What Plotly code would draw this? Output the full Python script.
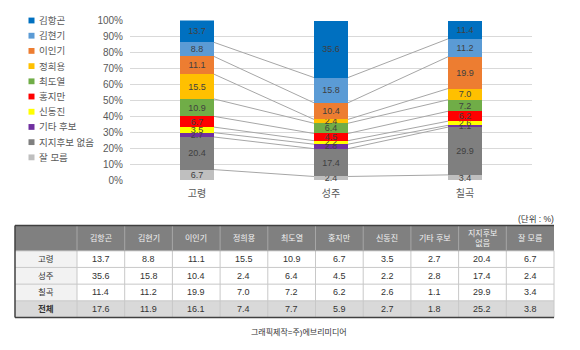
import plotly.graph_objects as go

# ---------------- data ----------------
regions = ["고령", "성주", "칠곡"]
candidates = ["김항곤", "김현기", "이인기", "정희용", "최도열", "홍지만", "신동진", "기타 후보", "지지후보 없음", "잘 모름"]
goryeong = [13.7, 8.8, 11.1, 15.5, 10.9, 6.7, 3.5, 2.7, 20.4, 6.7]
seongju = [35.6, 15.8, 10.4, 2.4, 6.4, 4.5, 2.2, 2.8, 17.4, 2.4]
chilgok = [11.4, 11.2, 19.9, 7.0, 7.2, 6.2, 2.6, 1.1, 29.9, 3.4]
total = [17.6, 11.9, 16.1, 7.4, 7.7, 5.9, 2.7, 1.8, 25.2, 3.8]
ytick_labels = ["0%", "10%", "20%", "30%", "40%", "50%", "60%", "70%", "80%", "90%", "100%"]
colors = ["#0070C0", "#5B9BD5", "#ED7D31", "#FFC000", "#70AD47", "#FF0000", "#FFFF00", "#7030A0", "#7F7F7F", "#BFBFBF"]
header_labels = ["", "김항곤", "김현기", "이인기", "정희용", "최도열", "홍지만", "신동진", "기타 후보", "지지후보<br>없음", "잘 모름"]
row_labels = ["고령", "성주", "칠곡", "전체"]
unit_text = "(단위 : %)"
credit_text = "그래픽제작=주)에브리미디어"

W, H = 580, 350
FONT = "Liberation Sans, Noto Sans CJK KR, sans-serif"


def px(x):
    return x / W


def py(y):
    return 1 - y / H


series_by_region = [goryeong, seongju, chilgok]
xpos = [0, 1, 2]
bw = 0.254

fig = go.Figure()

# stacked bars: bottom series first
n = len(candidates)
for i in reversed(range(n)):
    vals = [r[i] for r in series_by_region]
    fig.add_trace(go.Bar(
        x=xpos, y=vals, name=candidates[i], width=bw,
        marker=dict(color=colors[i], line=dict(width=0)),
        text=[f"{v:.1f}" for v in vals], textposition="inside",
        insidetextanchor="middle", textangle=0,
        textfont=dict(size=9, color="#404040", family=FONT),
        showlegend=False, hoverinfo="skip", cliponaxis=False,
    ))

# series lines connecting the tops of each segment
for i in range(1, n):
    tops = [sum(r[i:]) for r in series_by_region]
    xs, ys = [], []
    for k in range(len(xpos) - 1):
        xs += [xpos[k] + bw / 2, xpos[k + 1] - bw / 2, None]
        ys += [tops[k], tops[k + 1], None]
    fig.add_trace(go.Scatter(x=xs, y=ys, mode="lines",
                             line=dict(color="#A6A6A6", width=1),
                             showlegend=False, hoverinfo="skip"))

shapes = []
annotations = []


def rect(x0, y0, x1, y1, fill):
    shapes.append(dict(type="rect", xref="paper", yref="paper",
                       x0=px(x0), x1=px(x1), y0=py(y1), y1=py(y0),
                       fillcolor=fill, line=dict(width=0), layer="below"))


def line(x0, y0, x1, y1, color, width=1):
    shapes.append(dict(type="line", xref="paper", yref="paper",
                       x0=px(x0), y0=py(y0), x1=px(x1), y1=py(y1),
                       line=dict(color=color, width=width)))


def text(t, x, y, size, color, anchor="center"):
    annotations.append(dict(text=t, xref="paper", yref="paper", x=px(x), y=py(y),
                            xanchor=anchor, yanchor="middle", showarrow=False,
                            font=dict(size=size, color=color, family=FONT)))


# ---------------- table ----------------
t_left, t_right = 15, 554
first_w = 62
col_w = (t_right - t_left - first_w) / n
col_edges = [t_left, t_left + first_w] + [t_left + first_w + col_w * (j + 1) for j in range(n)]
t_top, head_bot, t_bot = 227.7, 253.7, 322.7
row_h = (t_bot - head_bot) / len(row_labels)
row_edges = [head_bot + row_h * k for k in range(len(row_labels) + 1)]

rect(t_left, t_top, t_right, head_bot, "#808080")
for k in range(len(row_labels)):
    last = k == len(row_labels) - 1
    rect(t_left, row_edges[k], t_left + first_w, row_edges[k + 1], "#D9D9D9" if last else "#F2F2F2")
    rect(t_left + first_w, row_edges[k], t_right, row_edges[k + 1], "#D9D9D9" if last else "#FFFFFF")

# grid lines
for xe in col_edges[1:-1]:
    line(xe, t_top, xe, head_bot, "#A6A6A6")
    line(xe, head_bot, xe, t_bot, "#C8C8C8")
line(t_right, head_bot, t_right, t_bot, "#C8C8C8")
for ye in row_edges[1:-1]:
    line(t_left, ye, t_right, ye, "#C8C8C8")
line(t_left, head_bot, t_right, head_bot, "#A6A6A6")
# outer borders
line(t_left, t_top, t_right, t_top, "#404040", 1.5)
line(t_left, t_bot, t_right, t_bot, "#404040", 1.5)
line(t_left, t_top, t_left, t_bot, "#404040", 1.5)

# header text
for j in range(1, len(header_labels)):
    xc = (col_edges[j] + col_edges[j + 1]) / 2
    text(header_labels[j], xc, (t_top + head_bot) / 2, 8, "#F2F2F2")

# body text
table_rows = [goryeong, seongju, chilgok, total]
for k, lab in enumerate(row_labels):
    yc = (row_edges[k] + row_edges[k + 1]) / 2
    lab_t = f"<b>{lab}</b>" if k == len(row_labels) - 1 else lab
    text(lab_t, (col_edges[0] + col_edges[1]) / 2, yc, 8.5, "#333333")
    for j in range(n):
        xc = (col_edges[j + 1] + col_edges[j + 2]) / 2
        text(f"{table_rows[k][j]:.1f}", xc, yc, 9, "#333333")

# ---------------- custom legend ----------------
for i in range(n):
    yc = 16 + i * 15.7
    shapes.append(dict(type="rect", xref="paper", yref="paper",
                       x0=px(28.5), x1=px(34.5), y0=py(yc + 3), y1=py(yc - 3),
                       fillcolor=colors[i], line=dict(width=0)))
    text(candidates[i], 37, yc, 9.5, "#595959", anchor="left")

text(unit_text, 556, 221, 8.5, "#333333", anchor="right")
text(credit_text, 299, 337.5, 8, "#333333")

fig.update_layout(
    width=W, height=H, margin=dict(l=0, r=0, t=0, b=0),
    paper_bgcolor="white", plot_bgcolor="white",
    barmode="stack", showlegend=False,
    uniformtext=dict(minsize=9, mode="show"),
    font=dict(family=FONT, color="#595959"),
    xaxis=dict(domain=[px(130), px(532)], range=[-0.5, 2.5],
               tickvals=xpos, ticktext=regions, showgrid=False, zeroline=False,
               showline=False, ticks="", ticklabelstandoff=6,
               tickfont=dict(size=10, color="#595959")),
    yaxis=dict(domain=[py(181), py(16)], range=[0, 100],
               tickvals=list(range(0, 101, 10)), ticktext=ytick_labels,
               showgrid=True, gridcolor="#D9D9D9", gridwidth=1, zeroline=False,
               ticks="", ticklabelstandoff=6, tickfont=dict(size=10, color="#595959")),
    shapes=shapes, annotations=annotations,
)

fig.write_html("out.html")
